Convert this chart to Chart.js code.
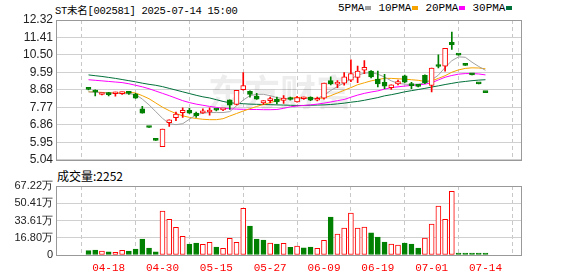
<!DOCTYPE html>
<html>
<head>
<meta charset="utf-8">
<script src="https://cdn.jsdelivr.net/npm/chart.js@4.4.1/dist/chart.umd.min.js"></script>
<style>
body { margin: 0; background: #fff; width: 578px; height: 276px; position: relative; overflow: hidden; }
#title { position: absolute; left: 55px; top: 2px; font: 10.5px "Liberation Mono", "Noto Sans CJK SC", monospace; letter-spacing: -0.3px; color: #000; white-space: nowrap; }
#legend { position: absolute; left: 338px; top: 2px; font: 11px "Liberation Mono", monospace; color: #000; white-space: nowrap; }
#legend i { display: inline-block; width: 6px; height: 4px; margin: 0 7px 0 1px; vertical-align: middle; }
#volTitle { position: absolute; left: 57px; top: 167px; font: 12px "Noto Sans CJK SC", sans-serif; color: #000; }
#kline { position: absolute; left: 0; top: 0; }
#vol { position: absolute; left: 0; top: 170px; }
</style>
</head>
<body>
<div id="title">ST未名[002581] 2025-07-14 15:00</div>
<div id="legend"></div>
<div id="volTitle"></div>
<canvas id="kline" width="578" height="170"></canvas>
<canvas id="vol" width="578" height="106"></canvas>
<script>
const dates = ['04-15','04-16','04-17','04-18','04-21','04-22','04-23','04-24','04-25','04-28',
    '04-29','04-30','05-06','05-07','05-08','05-09','05-12','05-13','05-14','05-15',
    '05-16','05-19','05-20','05-21','05-22','05-23','05-26','05-27','05-28','05-29',
    '05-30','06-03','06-04','06-05','06-06','06-09','06-10','06-11','06-12','06-13',
    '06-16','06-17','06-18','06-19','06-20','06-23','06-24','06-25','06-26','06-27',
    '06-30','07-01','07-02','07-03','07-04','07-07','07-08','07-09','07-10','07-14'];
const tickDates = ['04-18','04-30','05-15','05-27','06-09','06-19','07-01','07-14'];

const open = [8.73,8.66,8.44,8.53,8.48,8.49,8.52,8.46,7.70,6.72,
    6.05,5.72,6.97,7.23,7.50,7.62,7.47,7.48,7.53,7.66,
    7.64,8.16,7.92,8.69,8.61,8.36,8.00,8.12,8.20,8.13,
    8.28,8.06,8.22,8.30,8.14,8.25,9.16,8.98,9.03,9.19,
    9.33,9.71,9.66,9.24,9.08,8.79,8.99,9.41,8.93,8.92,
    9.44,8.91,9.99,9.91,11.16,10.49,9.96,9.46,8.99,8.54];
const high = [8.75,8.68,8.50,8.55,8.56,8.56,8.60,8.50,7.83,6.76,
    6.05,6.64,7.12,7.53,7.75,7.72,7.53,7.70,7.75,7.70,
    7.70,8.16,8.66,9.58,8.63,8.50,8.13,8.30,8.30,8.38,
    8.30,8.34,8.30,8.32,8.30,9.03,9.36,9.16,9.58,10.24,
    9.92,10.21,9.68,9.66,9.49,8.95,9.19,9.45,9.08,8.95,
    9.46,9.81,10.50,10.84,11.69,10.49,9.96,9.46,8.99,8.54];
const low = [8.68,8.37,8.42,8.37,8.36,8.44,8.45,8.23,7.47,6.72,
    6.05,5.72,6.78,7.08,7.25,7.45,7.25,7.46,7.37,7.58,
    7.60,7.67,7.90,8.66,8.30,8.18,7.93,8.00,7.95,7.97,
    8.15,8.04,8.18,8.12,8.10,8.20,8.94,8.79,8.92,9.11,
    9.05,9.53,9.30,8.83,8.74,8.71,8.94,9.05,8.74,8.83,
    9.00,8.58,9.82,9.66,10.79,10.49,9.96,9.46,8.99,8.54];
const close = [8.71,8.57,8.49,8.43,8.50,8.50,8.50,8.25,7.47,6.72,
    6.05,6.64,7.12,7.42,7.62,7.47,7.34,7.50,7.63,7.63,
    7.66,7.88,8.66,8.91,8.45,8.20,8.13,8.20,8.05,8.25,
    8.18,8.28,8.25,8.14,8.18,9.03,8.99,9.00,9.36,9.53,
    9.66,9.86,9.36,8.99,8.88,8.94,9.11,9.08,8.90,8.86,
    9.04,9.81,9.90,10.84,11.04,10.49,9.96,9.46,8.99,8.54];

const ma5 = [8.58,8.55,8.53,8.52,8.50,8.48,8.48,8.44,8.20,7.90,
    7.55,7.20,6.92,6.87,6.92,7.15,7.38,7.47,7.50,7.50,
    7.50,7.55,7.85,8.15,8.38,8.45,8.45,8.38,8.28,8.22,
    8.22,8.22,8.23,8.23,8.23,8.40,8.65,8.85,9.05,9.25,
    9.45,9.55,9.58,9.50,9.35,9.15,9.02,8.98,8.96,8.98,
    9.05,9.20,9.45,9.85,10.20,10.40,10.38,10.12,9.90,9.70];
const ma10 = [8.58,8.57,8.55,8.53,8.52,8.52,8.56,8.52,8.38,8.22,
    8.00,7.78,7.60,7.45,7.33,7.25,7.19,7.15,7.13,7.13,
    7.18,7.32,7.45,7.58,7.70,7.82,7.92,8.02,8.12,8.20,
    8.25,8.28,8.27,8.25,8.24,8.26,8.38,8.52,8.66,8.80,
    8.95,9.05,9.15,9.22,9.28,9.28,9.26,9.24,9.21,9.18,
    9.12,9.15,9.28,9.42,9.60,9.72,9.80,9.83,9.82,9.78];
const ma20 = [9.21,9.18,9.15,9.12,9.09,9.06,9.00,8.92,8.84,8.74,
    8.62,8.50,8.38,8.25,8.12,8.02,7.94,7.88,7.82,7.77,
    7.72,7.70,7.68,7.67,7.66,7.66,7.65,7.65,7.66,7.72,
    7.80,7.84,7.87,7.90,7.94,7.99,8.05,8.12,8.18,8.30,
    8.41,8.50,8.57,8.63,8.72,8.80,8.84,8.88,8.91,8.94,
    8.98,9.05,9.20,9.34,9.43,9.50,9.53,9.53,9.51,9.46];
const ma30 = [9.46,9.42,9.38,9.33,9.28,9.22,9.16,9.10,9.03,8.97,
    8.92,8.85,8.76,8.67,8.58,8.49,8.40,8.32,8.26,8.17,
    8.08,8.01,7.98,7.96,7.94,7.93,7.92,7.91,7.90,7.89,
    7.88,7.87,7.87,7.88,7.89,7.90,7.92,7.95,7.99,8.04,
    8.08,8.14,8.21,8.28,8.37,8.43,8.50,8.58,8.64,8.70,
    8.76,8.83,8.89,8.96,9.02,9.08,9.12,9.16,9.19,9.21];

// volume in 万 (10k shares); last value = 2252
const volume = [4.2,4.9,3.7,3.0,2.6,4.6,3.9,5.8,15.6,6.8,
    3.0,42.9,34.8,27.0,18.2,10.7,11.7,10.4,12.3,7.8,
    6.5,16.2,12.4,45.5,28.2,15.6,14.6,11.7,10.7,11.3,
    7.5,8.8,6.9,7.8,6.5,14.3,37.0,20.5,26.3,40.9,
    26.3,27.3,21.7,17.5,12.7,10.7,9.7,11.7,10.7,6.8,
    16.6,30.2,47.7,34.8,62.0,0.45,0.40,0.35,0.30,0.2252];
// 1 = red (up) volume bar, 0 = green
const volUp = [0,0,1,0,1,1,0,0,0,0,
    0,1,1,1,1,0,0,1,1,0,
    1,1,1,1,0,0,0,1,0,1,
    0,1,0,0,1,1,0,1,1,1,
    1,1,0,0,0,1,1,0,0,0,
    1,1,1,1,1,0,0,0,0,0];

const priceTicks = [5.04,5.95,6.86,7.77,8.68,9.59,10.50,11.41,12.32];
const volTicks = [0,16.80,33.61,50.41,67.22];

const RED = '#ff0000';
const GREEN = '#008000';
const maNames = ['5PMA','10PMA','20PMA','30PMA'];
const maColors = ['#a0a0a0','#f5a300','#ff00ff','#00703a'];

const isUp = dates.map((d, i) => {
    if (close[i] > open[i]) return true;
    if (close[i] < open[i]) return false;
    return i > 0 && close[i] >= close[i - 1];
});
const tickIdx = tickDates.map(d => dates.indexOf(d));

document.getElementById('legend').innerHTML = maNames.map((n, i) =>
    n + '<i style="background:' + maColors[i] + '"></i>').join('');
document.getElementById('volTitle').textContent = '成交量:' + Math.round(volume[volume.length - 1] * 10000);

const frame = {
    id: 'frame',
    afterDatasetsDraw(chart) {
        const a = chart.chartArea;
        const ctx = chart.ctx;
        ctx.save();
        ctx.strokeStyle = '#999';
        ctx.lineWidth = 1;
        ctx.strokeRect(Math.round(a.left) + 0.5, Math.round(a.top) + 0.5,
            Math.round(a.right - a.left) - 1, Math.round(a.bottom - a.top));
        ctx.restore();
    }
};

// faint site watermark behind the candles
const watermark = {
    id: 'watermark',
    beforeDatasetsDraw(chart) {
        const ctx = chart.ctx;
        ctx.save();
        ctx.fillStyle = 'rgba(0,0,0,0.07)';
        ctx.font = 'bold 36px "Noto Sans CJK SC"';
        ctx.textAlign = 'center';
        ctx.textBaseline = 'middle';
        ctx.fillText('东方财富', 280, 92);
        ctx.restore();
    }
};

const xScale = (showLabels) => ({
    type: 'linear',
    min: -0.5,
    max: 60.1,
    afterBuildTicks: s => { s.ticks = tickIdx.map(v => ({ value: v })); },
    afterFit: s => { s.height = showLabels ? 21 : 0; },
    ticks: {
        display: showLabels,
        autoSkip: false,
        maxRotation: 0,
        padding: 6,
        color: RED,
        font: { family: 'Liberation Mono', size: 11 },
        callback: v => dates[v]
    },
    grid: { color: '#c8c8c8', drawTicks: false },
    border: { display: false, dash: [4, 3] }
});

const kChart = new Chart(document.getElementById('kline'), {
    type: 'bar',
    data: {
        datasets: [{
            label: 'body',
            data: dates.map((d, i) => ({ x: i, y: [open[i], close[i]] })),
            backgroundColor: isUp.map(u => u ? '#ffffff' : GREEN),
            borderColor: isUp.map(u => u ? RED : GREEN),
            borderWidth: 1,
            borderSkipped: false,
            barThickness: 5,
            minBarLength: 2,
            grouped: false
        }, {
            label: 'wick',
            data: dates.map((d, i) => ({ x: i, y: [low[i], high[i]] })),
            backgroundColor: isUp.map(u => u ? RED : GREEN),
            barThickness: 1,
            minBarLength: 1,
            grouped: false
        }].concat([ma5, ma10, ma20, ma30].map((arr, k) => ({
            type: 'line',
            label: maNames[k],
            data: arr.map((v, i) => ({ x: i, y: v })),
            borderColor: maColors[k],
            borderWidth: 1,
            pointRadius: 0,
            tension: 0
        })))
    },
    options: {
        responsive: false,
        animation: false,
        layout: { padding: { left: 0, right: 56, top: 20, bottom: 4 } },
        plugins: { legend: { display: false }, tooltip: { enabled: false } },
        scales: {
            x: xScale(false),
            y: {
                min: 5.04,
                max: 12.32,
                afterBuildTicks: s => { s.ticks = priceTicks.map(v => ({ value: v })); },
                afterFit: s => { s.width = 56; },
                ticks: {
                    color: '#222',
                    padding: 3,
                    font: { family: 'Liberation Sans', size: 12 },
                    callback: v => v.toFixed(2)
                },
                grid: { color: '#d0d0d0', drawTicks: false },
                border: { display: false }
            }
        }
    },
    plugins: [watermark, frame]
});

const volChart = new Chart(document.getElementById('vol'), {
    type: 'bar',
    data: {
        datasets: [{
            label: 'volume',
            data: volume.map((v, i) => ({ x: i, y: v })),
            backgroundColor: volUp.map(u => u ? '#ffffff' : GREEN),
            borderColor: volUp.map(u => u ? RED : GREEN),
            borderWidth: 1,
            borderSkipped: false,
            barThickness: 5,
            minBarLength: 2
        }]
    },
    options: {
        responsive: false,
        animation: false,
        layout: { padding: { left: 0, right: 56, top: 16, bottom: 0 } },
        plugins: { legend: { display: false }, tooltip: { enabled: false } },
        scales: {
            x: xScale(true),
            y: {
                min: 0,
                max: 67.22,
                afterBuildTicks: s => { s.ticks = volTicks.map(v => ({ value: v })); },
                afterFit: s => { s.width = 56; },
                ticks: {
                    color: '#222',
                    padding: 3,
                    font: { family: 'Liberation Sans', size: 11 },
                    callback: v => v === 0 ? '0' : v.toFixed(2) + '万'
                },
                grid: { color: '#d0d0d0', drawTicks: false },
                border: { display: false }
            }
        }
    },
    plugins: [frame]
});
</script>
</body>
</html>
